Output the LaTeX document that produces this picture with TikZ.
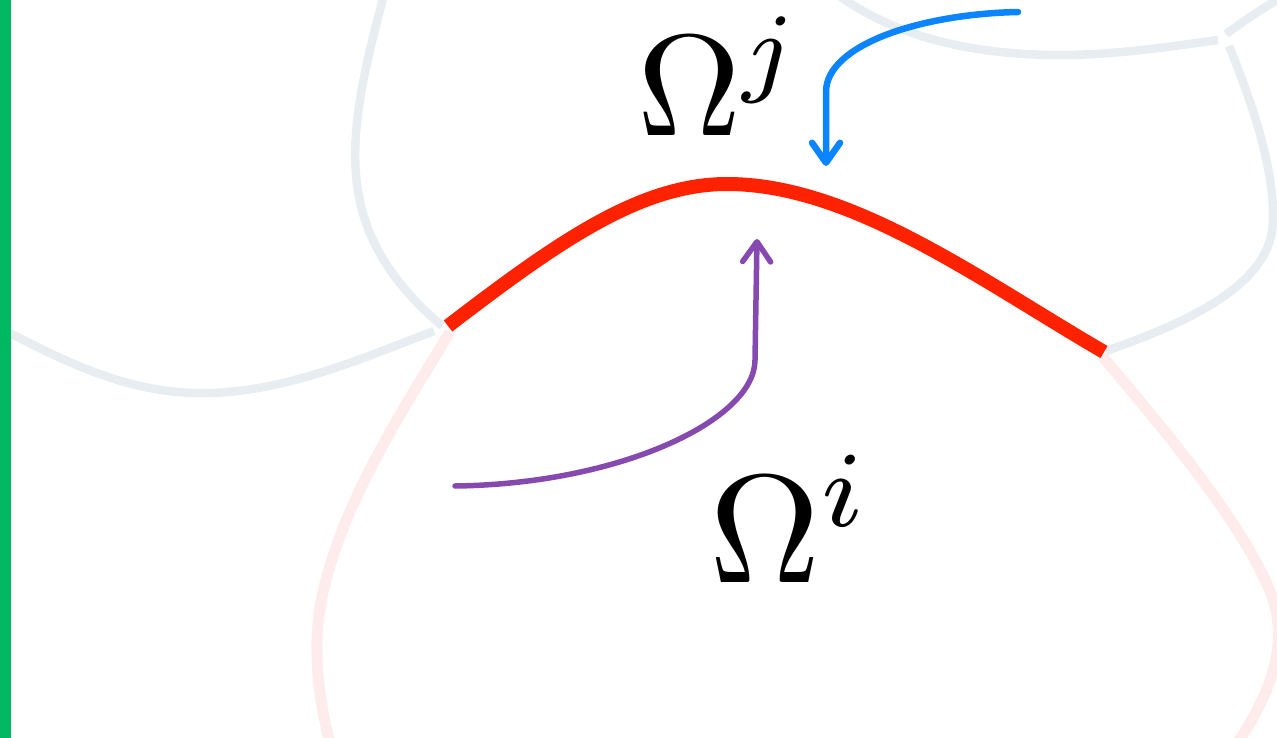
\documentclass[tikz,border=0pt]{standalone}
\usepackage{graphicx}
\usetikzlibrary{arrows.meta}
\definecolor{barGreen}{HTML}{00B862}
\definecolor{faintGray}{HTML}{E8EDF2}
\definecolor{faintPink}{HTML}{FDECEB}
\definecolor{ifaceRed}{HTML}{FF2200}
\definecolor{arrPurple}{HTML}{8549B0}
\definecolor{arrBlue}{HTML}{0A84FF}
\tikzset{
  grayline/.style={draw=faintGray, line width=8.5pt},
  pinkline/.style={draw=faintPink, line width=11pt},
  redline/.style={draw=ifaceRed, line width=14pt},
  bluearrow/.style={draw=arrBlue, line width=6.5pt, line cap=round,
    -{Straight Barb[length=20pt,width=28pt,line cap=round,line join=round]}},
  purplearrow/.style={draw=arrPurple, line width=5.5pt, line cap=round,
    -{Straight Barb[length=20pt,width=28pt,line cap=round,line join=round]}},
  omegalabel/.style={inner sep=0pt, anchor=base west, text=black}
}
\begin{document}
\begin{tikzpicture}[x=1pt,y=-1pt]
\useasboundingbox (0,0) rectangle (1277,738);
\clip (0,0) rectangle (1277,738);
% faint gray neighbouring boundaries
\draw[grayline] (384,-5) .. controls (345,140) and (330,230) .. (442,326);
\draw[grayline] (8,332) .. controls (80,370) and (140,395) .. (210,393) .. controls (290,391) and (370,355) .. (434,331);
\draw[grayline] (838,-5) .. controls (900,40) and (980,55) .. (1060,55) .. controls (1120,55) and (1180,45) .. (1218,40);
\draw[grayline] (1226,34) .. controls (1245,20) and (1262,9) .. (1280,-2);
\draw[grayline] (1229,46) .. controls (1255,110) and (1278,180) .. (1272,232) .. controls (1262,290) and (1180,325) .. (1106,351);
% faint pink boundary of Omega i
\draw[pinkline] (450,332) .. controls (390,430) and (320,540) .. (317,640) .. controls (316,690) and (325,720) .. (330,745);
\draw[pinkline] (1102,356) .. controls (1165,430) and (1235,515) .. (1265,580) .. controls (1290,630) and (1280,680) .. (1236,745);
% green bar
\fill[barGreen] (0,0) rectangle (11,738);
% shared interface
\coordinate (ifL) at (448,326);
\coordinate (ifTop) at (725,184);
\coordinate (ifR) at (1104,352);
\draw[redline] (ifL) .. controls (560,240) and (640,185) .. (ifTop) .. controls (850,183) and (980,280) .. (ifR);
% labels
\node[omegalabel] (oj) at (637,136) {\scalebox{14.4}{$\Omega^j$}};
\node[omegalabel] (oi) at (709,582) {\scalebox{15.4}{$\Omega^i$}};
% arrows
\coordinate (bStart) at (1018,12);
\coordinate (bTip) at (826,166);
\draw[bluearrow] (bStart) .. controls (920,14) and (826,45) .. (826,92) -- (bTip);
\coordinate (pStart) at (455,486);
\coordinate (pTip) at (757,239);
\draw[purplearrow] (pStart) .. controls (620,484) and (755,420) .. (755,360) -- (pTip);
\end{tikzpicture}
\end{document}
